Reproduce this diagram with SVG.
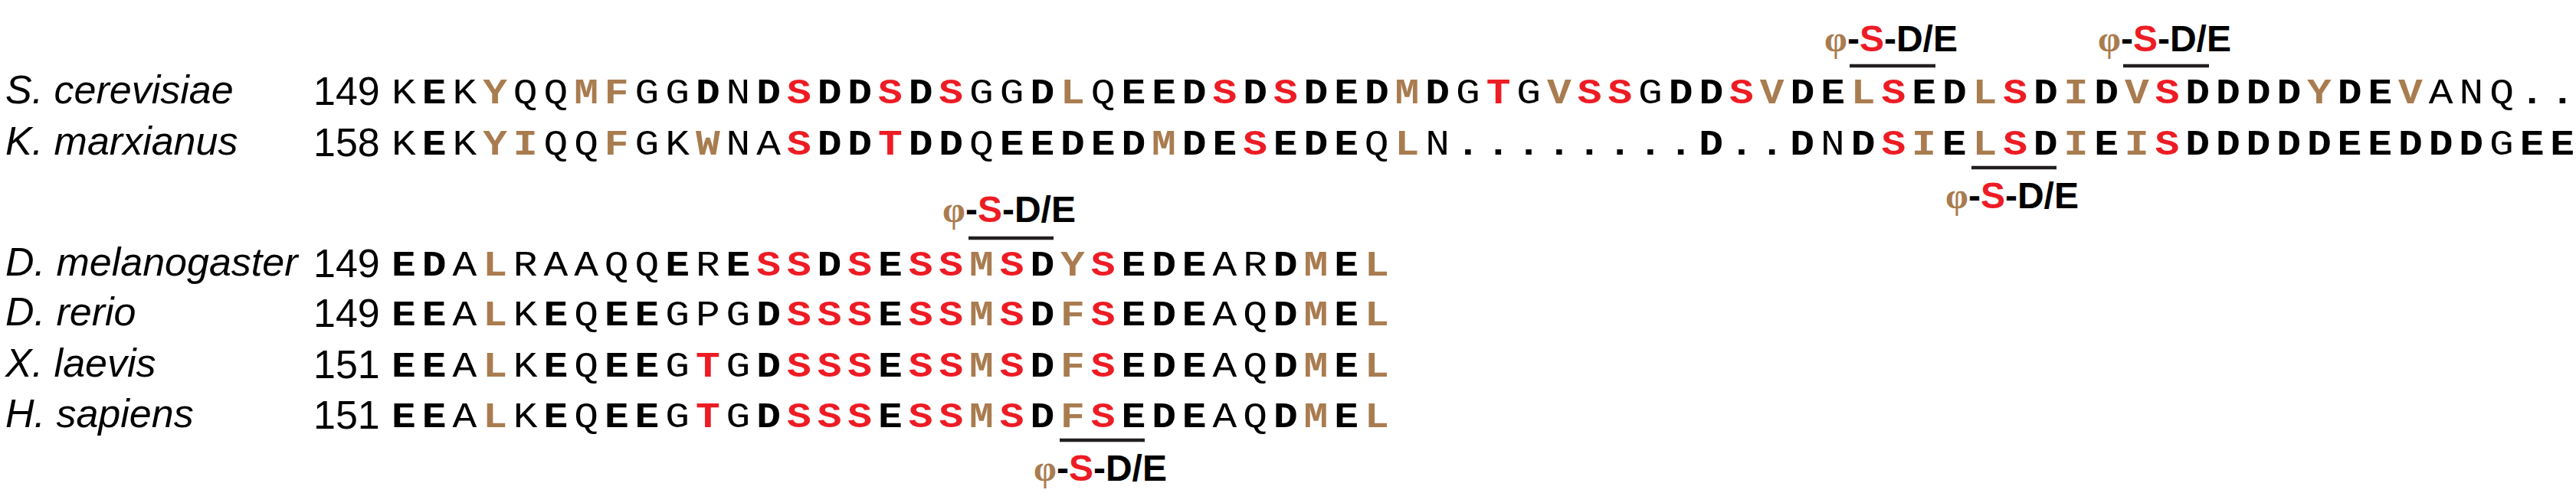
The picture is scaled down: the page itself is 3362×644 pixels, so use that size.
<svg xmlns="http://www.w3.org/2000/svg" width="3362" height="644" viewBox="0 0 3362 644">
<style>
.name{font-family:"Liberation Sans",Arial,sans-serif;font-style:italic;font-size:52px;fill:#000}
.num{font-family:"Liberation Sans",Arial,sans-serif;font-size:52px;fill:#000}
.seq{font-family:"Liberation Mono","Courier New",monospace;font-size:46px;letter-spacing:6.9px}
.r{font-weight:normal;fill:#000}
.b{font-weight:bold;fill:#000}
.t{font-weight:bold;fill:#A97C50}
.s{font-weight:bold;fill:#ED1C24}
.mot{font-family:"Liberation Sans",Arial,sans-serif;font-weight:bold;font-size:48px;fill:#000}
.phi{font-family:"Liberation Serif","Times New Roman",serif;fill:#A97C50}
.red{fill:#ED1C24}
.bar{stroke:#231F20;stroke-width:4.5}
</style>
<rect width="3362" height="644" fill="#fff"/>

<g id="row-scerevisiae">
<text class="name" x="7" y="135">S. cerevisiae</text>
<text class="num" x="409" y="137">149</text>
<g transform="translate(511.1,135) scale(1.15,1)"><text class="seq" x="0" y="0"><tspan class="r">K</tspan><tspan class="b">E</tspan><tspan class="r">K</tspan><tspan class="t">Y</tspan><tspan class="r">QQ</tspan><tspan class="t">MF</tspan><tspan class="r">GG</tspan><tspan class="b">D</tspan><tspan class="r">N</tspan><tspan class="b">D</tspan><tspan class="s">S</tspan><tspan class="b">DD</tspan><tspan class="s">S</tspan><tspan class="b">D</tspan><tspan class="s">S</tspan><tspan class="r">GG</tspan><tspan class="b">D</tspan><tspan class="t">L</tspan><tspan class="r">Q</tspan><tspan class="b">EED</tspan><tspan class="s">S</tspan><tspan class="b">D</tspan><tspan class="s">S</tspan><tspan class="b">DED</tspan><tspan class="t">M</tspan><tspan class="b">D</tspan><tspan class="r">G</tspan><tspan class="s">T</tspan><tspan class="r">G</tspan><tspan class="t">V</tspan><tspan class="s">SS</tspan><tspan class="r">G</tspan><tspan class="b">DD</tspan><tspan class="s">S</tspan><tspan class="t">V</tspan><tspan class="b">DE</tspan><tspan class="t">L</tspan><tspan class="s">S</tspan><tspan class="b">ED</tspan><tspan class="t">L</tspan><tspan class="s">S</tspan><tspan class="b">D</tspan><tspan class="t">I</tspan><tspan class="b">D</tspan><tspan class="t">V</tspan><tspan class="s">S</tspan><tspan class="b">DDDD</tspan><tspan class="t">Y</tspan><tspan class="b">DE</tspan><tspan class="t">V</tspan><tspan class="r">ANQ</tspan><tspan class="b">..</tspan></text></g>
</g>

<g id="row-kmarxianus">
<text class="name" x="7" y="202">K. marxianus</text>
<text class="num" x="409" y="204">158</text>
<g transform="translate(511.1,202) scale(1.15,1)"><text class="seq" x="0" y="0"><tspan class="r">K</tspan><tspan class="b">E</tspan><tspan class="r">K</tspan><tspan class="t">YI</tspan><tspan class="r">QQ</tspan><tspan class="t">F</tspan><tspan class="r">GK</tspan><tspan class="t">W</tspan><tspan class="r">NA</tspan><tspan class="s">S</tspan><tspan class="b">DD</tspan><tspan class="s">T</tspan><tspan class="b">DD</tspan><tspan class="r">Q</tspan><tspan class="b">EEDED</tspan><tspan class="t">M</tspan><tspan class="b">DE</tspan><tspan class="s">S</tspan><tspan class="b">EDE</tspan><tspan class="r">Q</tspan><tspan class="t">L</tspan><tspan class="r">N</tspan><tspan class="b">........D..D</tspan><tspan class="r">N</tspan><tspan class="b">D</tspan><tspan class="s">S</tspan><tspan class="t">I</tspan><tspan class="b">E</tspan><tspan class="t">L</tspan><tspan class="s">S</tspan><tspan class="b">D</tspan><tspan class="t">I</tspan><tspan class="b">E</tspan><tspan class="t">I</tspan><tspan class="s">S</tspan><tspan class="b">DDDDDEEDDD</tspan><tspan class="r">G</tspan><tspan class="b">EE</tspan></text></g>
</g>

<g id="row-dmelanogaster">
<text class="name" x="7" y="360">D. melanogaster</text>
<text class="num" x="409" y="362">149</text>
<g transform="translate(511.1,360) scale(1.15,1)"><text class="seq" x="0" y="0"><tspan class="b">ED</tspan><tspan class="r">A</tspan><tspan class="t">L</tspan><tspan class="r">RAAQQ</tspan><tspan class="b">E</tspan><tspan class="r">R</tspan><tspan class="b">E</tspan><tspan class="s">SS</tspan><tspan class="b">D</tspan><tspan class="s">S</tspan><tspan class="b">E</tspan><tspan class="s">SS</tspan><tspan class="t">M</tspan><tspan class="s">S</tspan><tspan class="b">D</tspan><tspan class="t">Y</tspan><tspan class="s">S</tspan><tspan class="b">EDE</tspan><tspan class="r">AR</tspan><tspan class="b">D</tspan><tspan class="t">M</tspan><tspan class="b">E</tspan><tspan class="t">L</tspan></text></g>
</g>

<g id="row-drerio">
<text class="name" x="7" y="425">D. rerio</text>
<text class="num" x="409" y="427">149</text>
<g transform="translate(511.1,425) scale(1.15,1)"><text class="seq" x="0" y="0"><tspan class="b">EE</tspan><tspan class="r">A</tspan><tspan class="t">L</tspan><tspan class="r">K</tspan><tspan class="b">E</tspan><tspan class="r">Q</tspan><tspan class="b">EE</tspan><tspan class="r">GPG</tspan><tspan class="b">D</tspan><tspan class="s">SSS</tspan><tspan class="b">E</tspan><tspan class="s">SS</tspan><tspan class="t">M</tspan><tspan class="s">S</tspan><tspan class="b">D</tspan><tspan class="t">F</tspan><tspan class="s">S</tspan><tspan class="b">EDE</tspan><tspan class="r">AQ</tspan><tspan class="b">D</tspan><tspan class="t">M</tspan><tspan class="b">E</tspan><tspan class="t">L</tspan></text></g>
</g>

<g id="row-xlaevis">
<text class="name" x="7" y="492">X. laevis</text>
<text class="num" x="409" y="494" fill="#231F20">151</text>
<g transform="translate(511.1,492) scale(1.15,1)"><text class="seq" x="0" y="0"><tspan class="b">EE</tspan><tspan class="r">A</tspan><tspan class="t">L</tspan><tspan class="r">K</tspan><tspan class="b">E</tspan><tspan class="r">Q</tspan><tspan class="b">EE</tspan><tspan class="r">G</tspan><tspan class="s">T</tspan><tspan class="r">G</tspan><tspan class="b">D</tspan><tspan class="s">SSS</tspan><tspan class="b">E</tspan><tspan class="s">SS</tspan><tspan class="t">M</tspan><tspan class="s">S</tspan><tspan class="b">D</tspan><tspan class="t">F</tspan><tspan class="s">S</tspan><tspan class="b">EDE</tspan><tspan class="r">AQ</tspan><tspan class="b">D</tspan><tspan class="t">M</tspan><tspan class="b">E</tspan><tspan class="t">L</tspan></text></g>
</g>

<g id="row-hsapiens">
<text class="name" x="7" y="558">H. sapiens</text>
<text class="num" x="409" y="560">151</text>
<g transform="translate(511.1,558) scale(1.15,1)"><text class="seq" x="0" y="0"><tspan class="b">EE</tspan><tspan class="r">A</tspan><tspan class="t">L</tspan><tspan class="r">K</tspan><tspan class="b">E</tspan><tspan class="r">Q</tspan><tspan class="b">EE</tspan><tspan class="r">G</tspan><tspan class="s">T</tspan><tspan class="r">G</tspan><tspan class="b">D</tspan><tspan class="s">SSS</tspan><tspan class="b">E</tspan><tspan class="s">SS</tspan><tspan class="t">M</tspan><tspan class="s">S</tspan><tspan class="b">D</tspan><tspan class="t">F</tspan><tspan class="s">S</tspan><tspan class="b">EDE</tspan><tspan class="r">AQ</tspan><tspan class="b">D</tspan><tspan class="t">M</tspan><tspan class="b">E</tspan><tspan class="t">L</tspan></text></g>
</g>

<g id="motif-labels">
<text class="mot" x="2468" y="67" text-anchor="middle"><tspan class="phi">φ</tspan>-<tspan class="red">S</tspan>-D/E</text>
<text class="mot" x="2825" y="67" text-anchor="middle"><tspan class="phi">φ</tspan>-<tspan class="red">S</tspan>-D/E</text>
<text class="mot" x="2626" y="272" text-anchor="middle"><tspan class="phi">φ</tspan>-<tspan class="red">S</tspan>-D/E</text>
<text class="mot" x="1317" y="290" text-anchor="middle"><tspan class="phi">φ</tspan>-<tspan class="red">S</tspan>-D/E</text>
<text class="mot" x="1436" y="628" text-anchor="middle"><tspan class="phi">φ</tspan>-<tspan class="red">S</tspan>-D/E</text>
</g>

<g id="connectors">
<line class="bar" x1="2414" y1="86" x2="2526" y2="86"/>
<line class="bar" x1="2771" y1="86" x2="2883" y2="86"/>
<line class="bar" x1="2573" y1="219" x2="2684" y2="219"/>
<line class="bar" x1="1264" y1="311" x2="1375" y2="311"/>
<line class="bar" x1="1383" y1="575" x2="1494" y2="575"/>
</g>
</svg>
